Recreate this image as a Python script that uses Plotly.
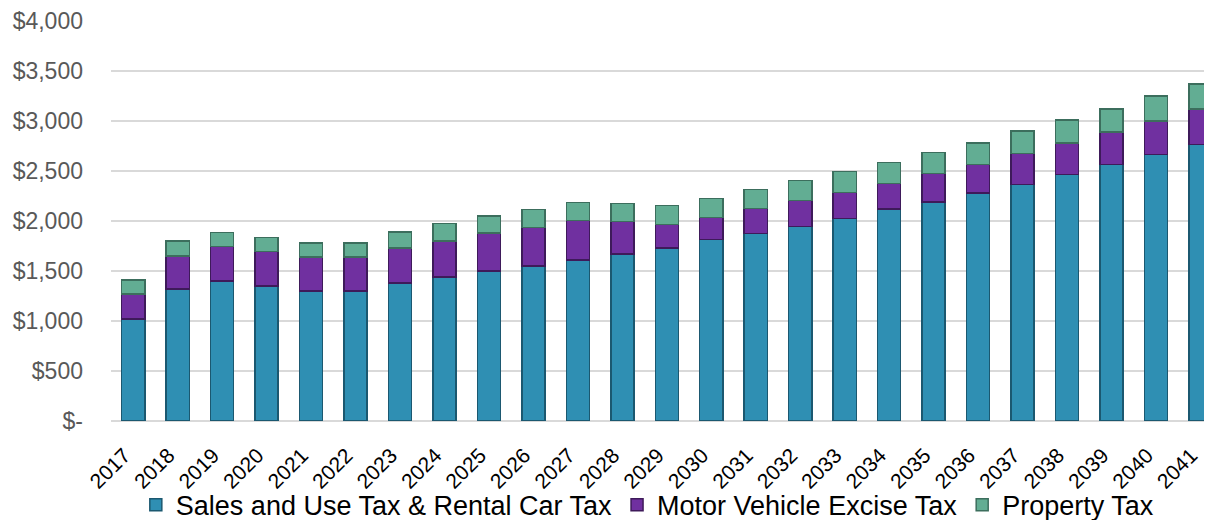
import plotly.graph_objects as go

years = [str(y) for y in range(2017, 2042)]
sales_use_rental = [1020, 1320, 1400, 1350, 1300, 1300, 1380, 1440, 1500, 1550, 1610, 1670, 1730,
                    1815, 1875, 1945, 2025, 2115, 2185, 2275, 2360, 2460, 2560, 2660, 2760]
motor_vehicle_excise = [250, 330, 345, 345, 338, 338, 347, 357, 376, 385, 395, 325, 235,
                        220, 249, 258, 258, 257, 286, 286, 310, 319, 328, 338, 357]
property_tax = [140, 149, 139, 139, 139, 139, 159, 178, 169, 179, 179, 179, 189,
                188, 189, 199, 208, 209, 209, 218, 228, 228, 229, 248, 248]
series_names = ["Sales and Use Tax & Rental Car Tax", "Motor Vehicle Excise Tax", "Property Tax"]
y_tick_vals = [0, 500, 1000, 1500, 2000, 2500, 3000, 3500, 4000]
y_tick_text = ["$-", "$500", "$1,000", "$1,500", "$2,000", "$2,500", "$3,000", "$3,500", "$4,000"]

colors = ["#2F8FB3", "#7030A0", "#62AD93"]
edges = ["#1B5870", "#3E1A5A", "#3C6E5D"]

fig = go.Figure()
for name, vals, c, e in zip(series_names, [sales_use_rental, motor_vehicle_excise, property_tax], colors, edges):
    fig.add_trace(go.Bar(
        x=years, y=vals, name=name,
        marker=dict(color=c, line=dict(color=e, width=1.5)),
    ))

fig.update_layout(
    barmode="stack",
    bargap=0.48,
    width=1204, height=512,
    margin=dict(l=103, r=0, t=12, b=99, autoexpand=False),
    plot_bgcolor="white", paper_bgcolor="white",
    font=dict(family="Liberation Sans, Arial, sans-serif"),
    showlegend=True,
    legend=dict(orientation="h", xref="container", yref="container",
                x=0.531, xanchor="center", y=0.029, yanchor="middle",
                font=dict(size=27, color="#000000"), itemwidth=30,
                traceorder="normal", bgcolor="rgba(0,0,0,0)"),
)
fig.update_xaxes(
    range=[-0.5, 24.26], tickangle=-45, automargin=False,
    tickfont=dict(size=21, color="#000000"),
    showgrid=False, showline=False, ticks="",
    ticklabelshift=-9, ticklabelstandoff=17, ticklabeloverflow="allow",
)
fig.update_yaxes(
    range=[0, 4005], tickvals=y_tick_vals, ticktext=y_tick_text, automargin=False,
    tickfont=dict(size=23, color="#595959"),
    showgrid=True, gridcolor="#D9D9D9", gridwidth=2,
    zeroline=True, zerolinecolor="#D9D9D9", zerolinewidth=2,
    showline=False, ticks="", ticklabelstandoff=27, ticklabeloverflow="allow",
)
fig.write_html("out.html")
